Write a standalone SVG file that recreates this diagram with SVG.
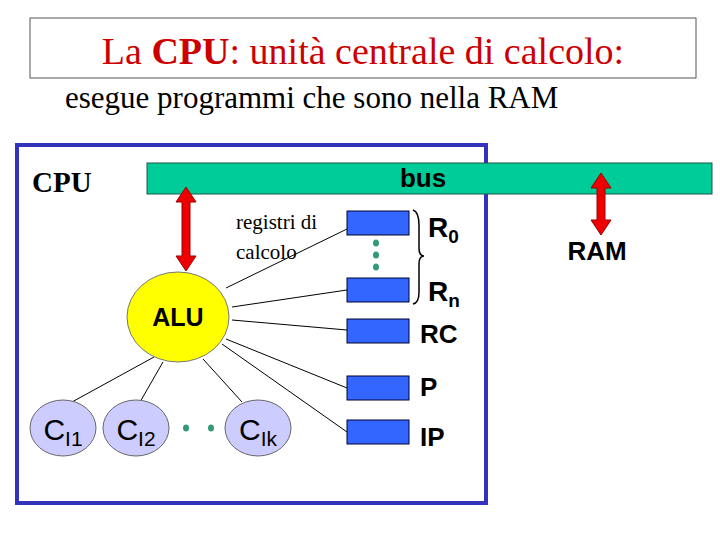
<svg xmlns="http://www.w3.org/2000/svg" width="720" height="540" viewBox="0 0 720 540">
<style>
.serif{font-family:"Liberation Serif",serif}
.sans{font-family:"Liberation Sans",Arial,sans-serif}
.b{font-weight:bold}
.reg{fill:#3366ff;stroke:#000033;stroke-width:1}
.ln{stroke:#000;stroke-width:1;fill:none}
.dot{fill:#339977}
.ci{fill:#ccccff;stroke:#666;stroke-width:1}
</style>
<rect width="720" height="540" fill="#fff"/>
<rect x="30" y="18" width="666" height="60" fill="none" stroke="#555" stroke-width="1"/>
<text x="363" y="64" text-anchor="middle" class="serif" font-size="38" fill="#cc0000">La <tspan class="b">CPU</tspan>: unità centrale di calcolo:</text>
<text x="65" y="108" class="serif" font-size="31">esegue programmi che sono nella RAM</text>
<rect x="17" y="145" width="469" height="358" fill="none" stroke="#3333bb" stroke-width="4"/>
<g id="bus"><rect x="147" y="163" width="565" height="31" fill="#00cc99" stroke="#225544" stroke-width="1"/>
<text x="423" y="187" text-anchor="middle" class="sans b" font-size="26">bus</text></g>
<text x="32" y="192" class="serif b" font-size="29">CPU</text>
<g id="connectors">
<line class="ln" x1="226" y1="288" x2="347" y2="229"/>
<line class="ln" x1="232" y1="307" x2="347" y2="290"/>
<line class="ln" x1="232" y1="320" x2="347" y2="330"/>
<line class="ln" x1="226" y1="339" x2="347" y2="388"/>
<line class="ln" x1="222" y1="344" x2="347" y2="432"/>
<line class="ln" x1="154" y1="357" x2="72" y2="402"/>
<line class="ln" x1="163" y1="362" x2="140" y2="402"/>
<line class="ln" x1="203" y1="359" x2="242" y2="402"/>
<polygon points="186,187 196,202 190,202 190,256 196,256 186,271 176,256 182,256 182,202 176,202" fill="#ee0000" stroke="#990000" stroke-width="1"/>
<polygon points="601,173 611,188 605,188 605,220 611,220 601,235 591,220 597,220 597,188 591,188" fill="#ee0000" stroke="#990000" stroke-width="1"/>
</g>
<text x="236" y="229" class="serif" font-size="21">registri di</text>
<text x="236" y="259" class="serif" font-size="21">calcolo</text>
<g id="alu"><ellipse cx="178" cy="317" rx="51" ry="45" fill="#ffff00" stroke="#777" stroke-width="1"/>
<text x="178" y="326" text-anchor="middle" class="sans b" font-size="25">ALU</text></g>
<g id="r0"><rect class="reg" x="347" y="211" width="62" height="24"/><text x="428" y="237" class="sans b" font-size="28">R<tspan font-size="19" dy="6">0</tspan></text></g>
<g id="rn"><rect class="reg" x="347" y="278" width="62" height="24"/><text x="428" y="301" class="sans b" font-size="28">R<tspan font-size="19" dy="6">n</tspan></text></g>
<g id="rc"><rect class="reg" x="347" y="319" width="62" height="24"/><text x="420" y="343" class="sans b" font-size="26">RC</text></g>
<g id="p"><rect class="reg" x="347" y="376" width="62" height="24"/><text x="420" y="396" class="sans b" font-size="26">P</text></g>
<g id="ip"><rect class="reg" x="347" y="420" width="62" height="24"/><text x="420" y="446" class="sans b" font-size="26">IP</text></g>
<path d="M413,210 Q419,212 419,225 L419,248 Q419,256 424,256 Q419,256 419,264 L419,292 Q419,303 413,304" fill="none" stroke="#000" stroke-width="1.5"/>
<ellipse class="dot" cx="376" cy="243" rx="3" ry="3.5"/>
<ellipse class="dot" cx="376" cy="255" rx="3" ry="3.5"/>
<ellipse class="dot" cx="376" cy="267" rx="3" ry="3.5"/>
<g id="ci1"><ellipse class="ci" cx="63" cy="428" rx="33" ry="28"/><text x="63" y="440" text-anchor="middle" class="sans" font-size="30">C<tspan font-size="21" dy="6">I1</tspan></text></g>
<g id="ci2"><ellipse class="ci" cx="136" cy="428" rx="33" ry="28"/><text x="136" y="440" text-anchor="middle" class="sans" font-size="30">C<tspan font-size="21" dy="6">I2</tspan></text></g>
<g id="cik"><ellipse class="ci" cx="258" cy="428" rx="33" ry="28"/><text x="258" y="440" text-anchor="middle" class="sans" font-size="30">C<tspan font-size="21" dy="6">Ik</tspan></text></g>
<ellipse class="dot" cx="186" cy="428" rx="3" ry="3.5"/>
<ellipse class="dot" cx="211" cy="428" rx="3" ry="3.5"/>
<text x="597" y="260" text-anchor="middle" class="sans b" font-size="26">RAM</text>
</svg>
